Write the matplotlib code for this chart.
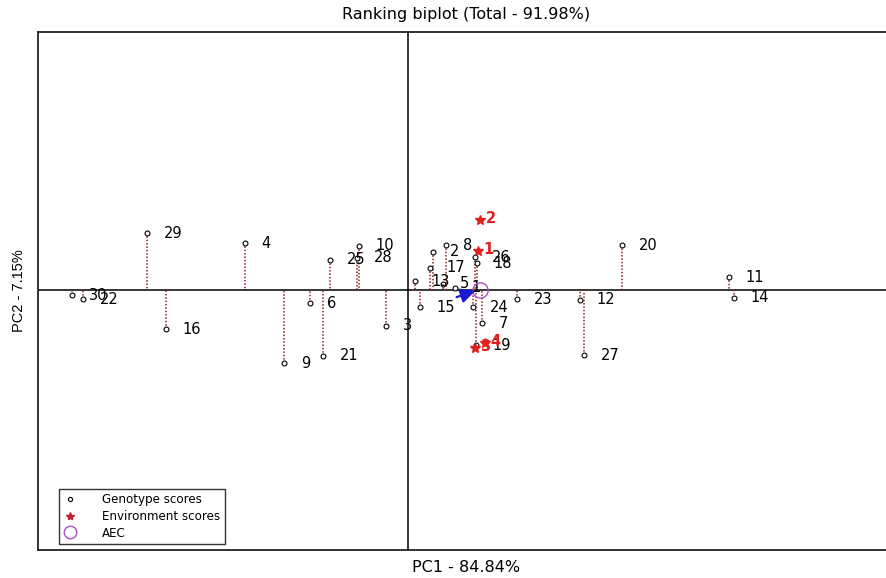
import matplotlib
matplotlib.use("Agg")
import matplotlib.pyplot as plt
from matplotlib.lines import Line2D

plt.rcParams['font.family'] = ['DejaVu Sans']

# genotype scores (PC1, PC2)
gen_labels = ['30', '22', '29', '16', '4', '9', '6', '21', '25', '10',
              '28', '3', '13', '15', '17', '2', '8', '5', '1', '26',
              '18', '24', '7', '19', '23', '12', '27', '20', '11', '14']
gen_pc1 = [-3.36, -3.25, -2.61, -2.42, -1.63, -1.24, -0.98, -0.85, -0.78, -0.49,
           -0.51, -0.22, 0.07, 0.12, 0.22, 0.25, 0.38, 0.35, 0.47, 0.67,
           0.69, 0.65, 0.74, 0.68, 1.09, 1.72, 1.76, 2.14, 3.21, 3.26]
gen_pc2 = [-0.05, -0.09, 0.57, -0.39, 0.47, -0.73, -0.13, -0.66, 0.30, 0.44,
           0.32, -0.36, 0.09, -0.17, 0.22, 0.38, 0.45, 0.06, 0.02, 0.33,
           0.27, -0.17, -0.33, -0.55, -0.09, -0.10, -0.65, 0.45, 0.13, -0.08]

# environment scores
env_labels = ['1', '2', '3', '4']
env_pc1 = [0.70, 0.72, 0.67, 0.77]
env_pc2 = [0.39, 0.70, -0.58, -0.53]

# average environment coordinate
aec_pc1 = 0.72
aec_pc2 = 0.0

fig = plt.figure(figsize=(8.86, 5.78), dpi=100)
ax = fig.add_axes([38/886, 28/578, 857/886, 518/578])
ax.set_xlim(-3.70, 4.87)
ax.set_ylim(-2.60, 2.58)
ax.set_xticks([])
ax.set_yticks([])
for s in ax.spines.values():
    s.set_linewidth(1.3)
    s.set_color('#222222')

# axes through origin
ax.axhline(0, color='black', lw=1.1, zorder=1)
ax.axvline(0, color='black', lw=1.1, zorder=1)

# projections onto the AEC abscissa
for x, y in zip(gen_pc1, gen_pc2):
    ax.plot([x, x], [y, 0], color='#8b2222', ls=(0, (1, 1.2)), lw=1.1, zorder=2)

ax.plot(gen_pc1, gen_pc2, 'o', ms=3.5, mfc='white', mec='black', mew=0.8, zorder=3)
for lab, x, y in zip(gen_labels, gen_pc1, gen_pc2):
    ax.annotate(lab, (x, y), xytext=(12, 0), textcoords='offset points',
                ha='left', va='center', fontsize=10.5, color='black', zorder=4)

ax.plot(env_pc1, env_pc2, '*', ms=7, color='#e02020', zorder=5)
for lab, x, y in zip(env_labels, env_pc1, env_pc2):
    ax.annotate(lab, (x, y), xytext=(4, 1), textcoords='offset points',
                ha='left', va='center', fontsize=10.5, color='#e02020',
                fontweight='bold', zorder=5)

# AEC point and arrow
ax.plot(aec_pc1, aec_pc2, 'o', ms=11, mfc='none', mec='#b050c8', mew=1.0, zorder=6)
ax.annotate('', xy=(aec_pc1 - 0.02, aec_pc2), xytext=(aec_pc1 - 0.26, aec_pc2 - 0.08),
            arrowprops=dict(arrowstyle='-|>', color='#1a1ad0', lw=1.6,
                            mutation_scale=22), zorder=6)

handles = [
    Line2D([], [], ls='none', marker='o', ms=3, mfc='white', mec='black', mew=0.8),
    Line2D([], [], ls='none', marker='*', ms=6, color='#c02030'),
    Line2D([], [], ls='none', marker='o', ms=9, mfc='none', mec='#b050c8', mew=1.0),
]
leg = ax.legend(handles, ['Genotype scores', 'Environment scores', 'AEC'],
                loc='lower left', bbox_to_anchor=(0.0245, 0.011), fontsize=8.6,
                frameon=True, fancybox=False, framealpha=1, edgecolor='#333333',
                borderpad=0.4, labelspacing=0.3, handletextpad=2.2,
                handlelength=1.0, borderaxespad=0)
leg.get_frame().set_linewidth(1.0)

fig.text(466/886, 1 - 14/578, 'Ranking biplot (Total - 91.98%)', ha='center',
         va='center', fontsize=11.5)
fig.text(466/886, 1 - 567/578, 'PC1 - 84.84%', ha='center', va='center', fontsize=11.5)
fig.text(19/886, 1 - 291/578, 'PC2 - 7.15%', ha='center', va='center',
         rotation=90, fontsize=10.5, family='Liberation Sans')

fig.savefig('out.png', dpi=100)
